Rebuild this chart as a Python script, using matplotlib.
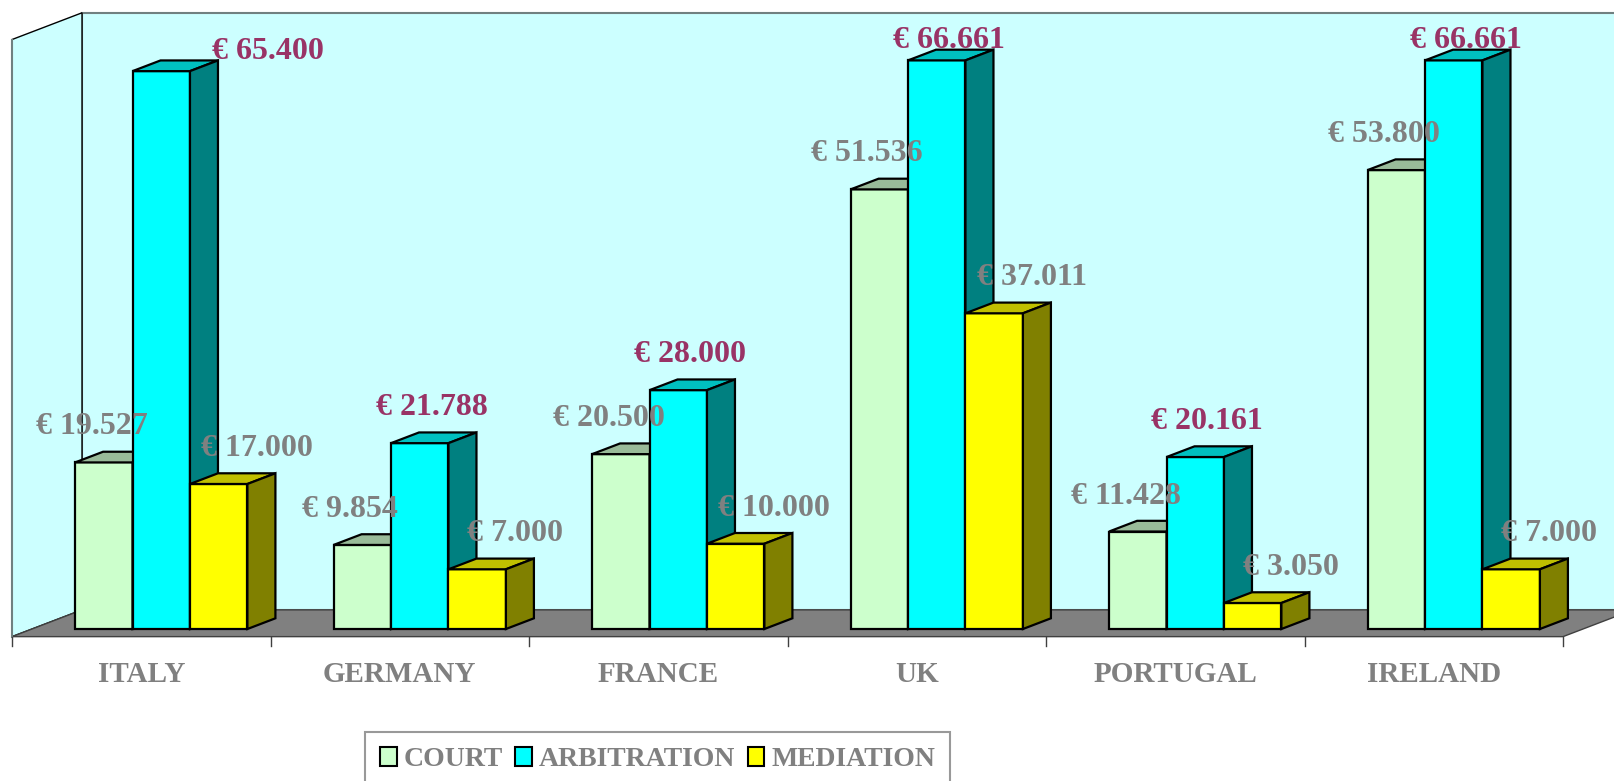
import matplotlib.pyplot as plt
from matplotlib.patches import Polygon, Rectangle, Patch

# data
countries = ['ITALY', 'GERMANY', 'FRANCE', 'UK', 'PORTUGAL', 'IRELAND']
court = [19527, 9854, 20500, 51536, 11428, 53800]
arbitration = [65400, 21788, 28000, 66661, 20161, 66661]
mediation = [17000, 7000, 10000, 37011, 3050, 7000]
series_names = ['COURT', 'ARBITRATION', 'MEDIATION']

plt.rcParams['font.family'] = ['Liberation Serif', 'DejaVu Serif']
plt.rcParams['font.weight'] = 'bold'

W, H = 1614, 781
fig = plt.figure(figsize=(W / 100, H / 100), dpi=100)
# axes = front plane of the bars (value 0 .. 70000)
ax = fig.add_axes([32 / W, (H - 629) / H, 1551 / W, 597.1 / H])
ax.set_xlim(0, 6)
ax.set_ylim(0, 70000)
ax.axis('off')

PX_X = 1551 / 6          # pixels per category
PX_Y = 597.1 / 70000     # pixels per value unit
DX = 28 / PX_X           # depth offset in x units
DY = 10.7 / PX_Y         # depth offset in value units
D_FRONT, D_BACK = -20 / 28, 50 / 28


def P(x, v, d):
    return (x + d * DX, v + d * DY)


def euro(v):
    return '€ ' + '{:,}'.format(v).replace(',', '.')


wall = '#CCFFFF'
n = len(countries)
# walls and floor
ax.add_patch(Polygon([P(0, 0, D_BACK), P(0, 70000, D_BACK), P(n, 70000, D_BACK), P(n, 0, D_BACK)],
                     closed=True, fc=wall, ec='#708080', lw=1.5, clip_on=False, zorder=1))
ax.add_patch(Polygon([P(0, 0, D_FRONT), P(0, 0, D_BACK), P(0, 70000, D_BACK), P(0, 70000, D_FRONT)],
                     closed=True, fc=wall, ec='black', lw=1, clip_on=False, zorder=1.5))
ax.add_patch(Polygon([P(0, 0, D_FRONT), P(n, 0, D_FRONT), P(n, 0, D_BACK), P(0, 0, D_BACK)],
                     closed=True, fc='#808080', ec='#404040', lw=1, clip_on=False, zorder=2))
# left wall edge in gray
ax.plot(*zip(P(0, 0, D_FRONT), P(0, 70000, D_FRONT)), color='#708080', lw=1.5, clip_on=False, zorder=2)

# ticks and category labels on the floor front edge
tick_len = 9 / PX_Y
for k in range(n + 1):
    x0, y0 = P(k, 0, D_FRONT)
    ax.plot([x0, x0], [y0, y0 - tick_len], color='#404040', lw=1, clip_on=False, zorder=2)
for i, name in enumerate(countries):
    ax.annotate(name, xy=P(i + 0.5, 0, D_FRONT), xytext=(0, -45), textcoords='offset pixels',
                ha='center', va='baseline', fontsize=21, color='#808080', annotation_clip=False)

# bars
series = [court, arbitration, mediation]
front_c = ['#CCFFCC', '#00FFFF', '#FFFF00']
top_c = ['#99BB99', '#00C0C0', '#C0C000']
side_c = ['#669966', '#008080', '#808000']
label_c = ['#808080', '#993366', '#808080']
label_dx = [-12, 12, 38]
extra_dx = {(0, 1): 95}
w = 1 / 4.5
z = 3
for i in range(n):
    for j, vals in enumerate(series):
        v = vals[i]
        x0 = i + 0.75 * w + j * w
        ax.add_patch(Rectangle((x0, 0), w, v, fc=front_c[j], ec='black', lw=1.6,
                               clip_on=False, zorder=z))
        ax.add_patch(Polygon([P(x0, v, 0), P(x0 + w, v, 0), P(x0 + w, v, 1), P(x0, v, 1)],
                             closed=True, fc=top_c[j], ec='black', lw=1.6, clip_on=False, zorder=z))
        ax.add_patch(Polygon([P(x0 + w, 0, 0), P(x0 + w, v, 0), P(x0 + w, v, 1), P(x0 + w, 0, 1)],
                             closed=True, fc=side_c[j], ec='black', lw=1.6, clip_on=False, zorder=z))
        z += 1

for i in range(n):
    for j, vals in enumerate(series):
        v = vals[i]
        x0 = i + 0.75 * w + j * w
        dy = 28 if v * PX_Y + 28 < 560 else 12
        dx = label_dx[j] + extra_dx.get((i, j), 0)
        ax.annotate(euro(v), xy=(x0 + w / 2, v), xytext=(dx, dy), textcoords='offset pixels',
                    ha='center', va='baseline', fontsize=23, color=label_c[j],
                    annotation_clip=False, zorder=100)

handles = [Patch(fc=front_c[j], ec='black', lw=1.5) for j in range(3)]
leg = fig.legend(handles, series_names, loc='upper center', bbox_to_anchor=(657.5 / W, 1 - 732 / H),
                 ncol=3, frameon=True, fancybox=False, edgecolor='#808080', fontsize=20,
                 handlelength=0.6, handleheight=0.65, handletextpad=0.25, columnspacing=0.45,
                 borderpad=0.55, borderaxespad=0, labelcolor='#808080')
leg.get_frame().set_linewidth(1.5)

fig.savefig('out.png', dpi=100)
